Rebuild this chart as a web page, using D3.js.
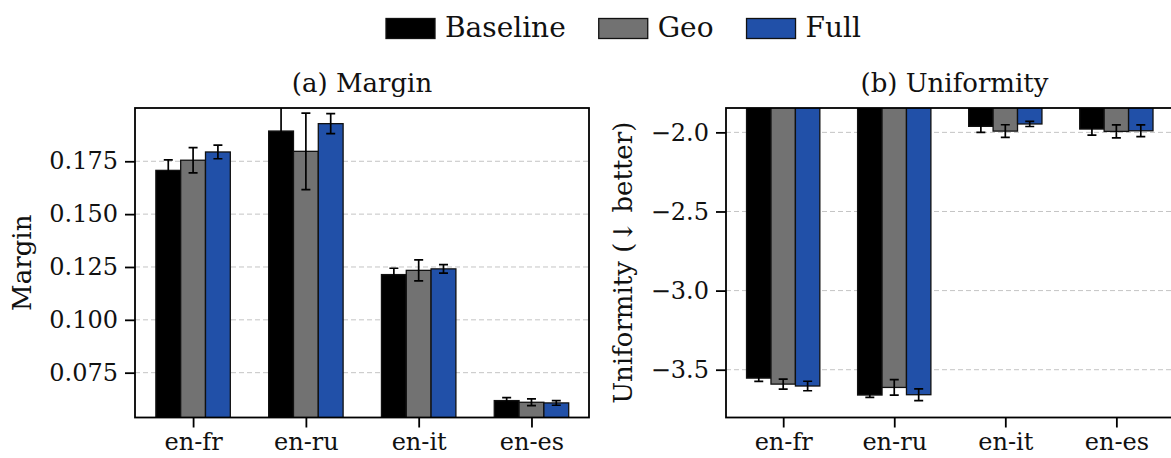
<!DOCTYPE html>
<html>
<head>
<meta charset="utf-8">
<script src="https://cdn.jsdelivr.net/npm/d3@7"></script>
<style>
  body { margin: 0; background: #fff; }
  svg { font-family: "DejaVu Serif", serif; }
</style>
</head>
<body>
<script>
var categories = ["en-fr", "en-ru", "en-it", "en-es"];
var seriesNames = ["Baseline", "Geo", "Full"];
var seriesColors = ["#000000", "#727272", "#2150a8"];

// (a) Margin, mean and error per category
var marginBaseline = [0.1707, 0.1893, 0.1214, 0.0618];
var marginGeo      = [0.1755, 0.1797, 0.1234, 0.0610];
var marginFull     = [0.1794, 0.1928, 0.1241, 0.0607];
var marginBaselineErr = [0.0050, 0.0120, 0.0030, 0.0014];
var marginGeoErr      = [0.0060, 0.0181, 0.0050, 0.0016];
var marginFullErr     = [0.0032, 0.0047, 0.0020, 0.0011];
var marginTicks = [0.075, 0.100, 0.125, 0.150, 0.175];

// (b) Uniformity
var uniformBaseline = [-3.553, -3.660, -1.962, -1.979];
var uniformGeo      = [-3.591, -3.612, -1.992, -1.994];
var uniformFull     = [-3.603, -3.658, -1.947, -1.990];
var uniformBaselineErr = [0.021, 0.015, 0.038, 0.038];
var uniformGeoErr      = [0.032, 0.049, 0.040, 0.041];
var uniformFullErr     = [0.030, 0.037, 0.016, 0.037];
var uniformTicks = [-2.0, -2.5, -3.0, -3.5];

var width = 1171, height = 458;
var plotTop = 108, plotBottom = 417.5;
var barW = 0.22;

var svg = d3.select("body").append("svg")
    .attr("width", width)
    .attr("height", height);

function makePanel(opts) {
  var x = d3.scaleLinear().domain([-0.515, 3.51]).range([opts.left, opts.right]);
  var y = d3.scaleLinear().domain(opts.ydomain).range([plotBottom, plotTop]);
  var g = svg.append("g");

  var clipId = "clip-" + opts.id;
  svg.append("clipPath").attr("id", clipId)
    .append("rect")
      .attr("x", opts.left).attr("y", plotTop)
      .attr("width", opts.right - opts.left).attr("height", plotBottom - plotTop);

  // grid
  g.selectAll(".grid")
    .data(opts.ticks)
    .enter().append("line")
      .attr("x1", opts.left).attr("x2", opts.right)
      .attr("y1", function(d) { return y(d); })
      .attr("y2", function(d) { return y(d); })
      .style("stroke", "#c4c4c4")
      .style("stroke-width", 1)
      .style("stroke-dasharray", "5,3");

  var plot = g.append("g").attr("clip-path", "url(#" + clipId + ")");

  var rows = [];
  opts.values.forEach(function(vals, s) {
    vals.forEach(function(v, i) {
      rows.push({s: s, i: i, v: v, e: opts.errs[s][i]});
    });
  });

  plot.selectAll(".bar")
    .data(rows)
    .enter().append("rect")
      .attr("x", function(d) { return x(d.i + (d.s - 1) * barW - barW / 2); })
      .attr("width", function(d) { return x(barW) - x(0); })
      .attr("y", function(d) { return Math.min(y(d.v), y(0)); })
      .attr("height", function(d) { return Math.abs(y(d.v) - y(0)); })
      .style("fill", function(d) { return seriesColors[d.s]; })
      .style("stroke", "#111")
      .style("stroke-width", 1.3);

  var eb = plot.selectAll(".err")
    .data(rows)
    .enter().append("g")
      .style("stroke", "#000")
      .style("stroke-width", 1.7);
  var cx = function(d) { return x(d.i + (d.s - 1) * barW); };
  eb.append("line")
    .attr("x1", cx).attr("x2", cx)
    .attr("y1", function(d) { return y(d.v - d.e); })
    .attr("y2", function(d) { return y(d.v + d.e); });
  [-1, 1].forEach(function(sign) {
    eb.append("line")
      .attr("x1", function(d) { return cx(d) - 4.5; })
      .attr("x2", function(d) { return cx(d) + 4.5; })
      .attr("y1", function(d) { return y(d.v + sign * d.e); })
      .attr("y2", function(d) { return y(d.v + sign * d.e); });
  });

  // axes
  var yAxis = d3.axisLeft(y).tickValues(opts.ticks).tickFormat(d3.format(opts.fmt))
    .tickSize(10).tickPadding(7);
  var gy = g.append("g").attr("transform", "translate(" + opts.left + ",0)").call(yAxis);
  var xAxis = d3.axisBottom(x).tickValues(d3.range(categories.length))
    .tickFormat(function(i) { return categories[i]; })
    .tickSize(10).tickPadding(5);
  var gx = g.append("g").attr("transform", "translate(0," + plotBottom + ")").call(xAxis);
  [gx, gy].forEach(function(a) {
    a.select(".domain").remove();
    a.selectAll("line").style("stroke", "#000").style("stroke-width", 1.8);
    a.selectAll("text").style("font-size", "24px").style("fill", "#111")
      .style("font-family", "DejaVu Serif");
  });

  // frame
  g.append("rect")
    .attr("x", opts.left).attr("y", plotTop)
    .attr("width", opts.right - opts.left).attr("height", plotBottom - plotTop)
    .style("fill", "none").style("stroke", "#000").style("stroke-width", 1.8);

  g.append("text")
    .attr("x", (opts.left + opts.right) / 2 + (opts.titleShift || 0))
    .attr("y", 92)
    .attr("text-anchor", "middle")
    .style("font-size", "26px").style("fill", "#111")
    .text(opts.title);

  g.append("text")
    .attr("transform", "translate(" + opts.labelX + "," + (plotTop + plotBottom) / 2 + ") rotate(-90)")
    .attr("dy", "0.35em")
    .attr("text-anchor", "middle")
    .style("font-size", "26px").style("fill", "#111")
    .text(opts.label);
}

makePanel({
  id: "a", left: 135, right: 589,
  ydomain: [0.0538, 0.2002],
  ticks: marginTicks, fmt: ".3f",
  values: [marginBaseline, marginGeo, marginFull],
  errs: [marginBaselineErr, marginGeoErr, marginFullErr],
  title: "(a) Margin", label: "Margin", labelX: 22
});

makePanel({
  id: "b", left: 726, right: 1173,
  ydomain: [-3.802, -1.846],
  ticks: uniformTicks, fmt: ".1f",
  values: [uniformBaseline, uniformGeo, uniformFull],
  errs: [uniformBaselineErr, uniformGeoErr, uniformFullErr],
  title: "(b) Uniformity", label: "Uniformity (\u2193 better)", labelX: 623,
  titleShift: 5
});

// legend
var lx = 386;
var legend = svg.append("g");
seriesNames.forEach(function(name, s) {
  legend.append("rect")
    .attr("x", lx).attr("y", 18.5)
    .attr("width", 49).attr("height", 20)
    .style("fill", seriesColors[s])
    .style("stroke", "#111").style("stroke-width", 1.3);
  var t = legend.append("text")
    .attr("x", lx + 59).attr("y", 37)
    .style("font-size", "28px").style("fill", "#111")
    .text(name);
  lx += 59 + t.node().getComputedTextLength() + 33;
});
</script>
</body>
</html>
